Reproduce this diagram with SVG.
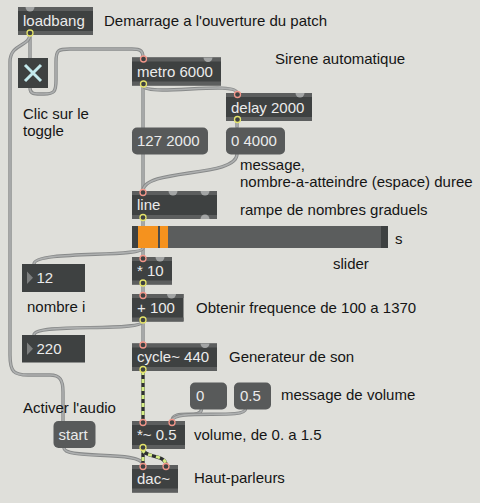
<svg xmlns="http://www.w3.org/2000/svg" width="480" height="503" viewBox="0 0 480 503">
<style>
.bg{fill:#dfdfda}
.obj{fill:#3e4141}
.stp{fill:#5c5e5e}
.msg{fill:#585a5a}
.num{fill:#3e4141}
.tri{fill:#7c7e7e}
.bt{font-family:"Liberation Sans",Arial,sans-serif;font-size:15px;fill:#ebebeb}
.cm{font-family:"Liberation Sans",Arial,sans-serif;font-size:15px;fill:#151515}
.co{fill:none;stroke:#888a8a;stroke-width:3.4;stroke-linecap:round}
.ci{fill:none;stroke:#aeb0b0;stroke-width:1.6;stroke-linecap:round}
.so{fill:none;stroke:#2e3030;stroke-width:3.4}
.si{fill:none;stroke:#d6ee86;stroke-width:3;stroke-dasharray:4 4}
.in{fill:#3e4141;stroke:#f2968a;stroke-width:1.3}
.out{fill:#3e4141;stroke:#e4e36a;stroke-width:1.3}
.bump{fill:#a3a5a5}
</style>
<rect class="bg" x="0" y="0" width="480" height="503"/>

<g id="connectors">
<path class="co" d="M30,34 L30,58"/><path class="ci" d="M30,34 L30,58"/>
<path class="co" d="M30,34 C30,47 10,43 10,62 L10,355 C10,372 14,375 28,375 L50,375 C60,375 63,380 63,392 L63,421"/>
<path class="ci" d="M30,34 C30,47 10,43 10,62 L10,355 C10,372 14,375 28,375 L50,375 C60,375 63,380 63,392 L63,421"/>
<path class="co" d="M30,88 C30,95 36,94 44,94 C54,94 56,92 56,80 L56,62 C56,50 58,49 70,49 L132,49 C141,49 143,51 143,58"/>
<path class="ci" d="M30,88 C30,95 36,94 44,94 C54,94 56,92 56,80 L56,62 C56,50 58,49 70,49 L132,49 C141,49 143,51 143,58"/>
<path class="co" d="M143,85 L143,191"/><path class="ci" d="M143,85 L143,191"/>
<path class="co" d="M143,85 C143,98 237,80 237,93"/><path class="ci" d="M143,85 C143,98 237,80 237,93"/>
<path class="co" d="M237,121 L237,127"/><path class="ci" d="M237,121 L237,127"/>
<path class="co" d="M237,154 C237,178 143,168 143,191"/><path class="ci" d="M237,154 C237,178 143,168 143,191"/>
<path class="co" d="M143,219 L143,226"/><path class="ci" d="M143,219 L143,226"/>
<path class="co" d="M143,248 L143,257"/><path class="ci" d="M143,248 L143,257"/>
<path class="co" d="M143,248 C143,258 34,250 34,264"/><path class="ci" d="M143,248 C143,258 34,250 34,264"/>
<path class="co" d="M143,284 L143,294"/><path class="ci" d="M143,284 L143,294"/>
<path class="co" d="M143,321 L143,343"/><path class="ci" d="M143,321 L143,343"/>
<path class="co" d="M143,321 C143,333 34,322 34,335"/><path class="ci" d="M143,321 C143,333 34,322 34,335"/>
<path class="co" d="M201.5,409 C201.5,420 172,408 172,421"/><path class="ci" d="M201.5,409 C201.5,420 172,408 172,421"/>
<path class="co" d="M245.5,409 C245.5,420 172,408 172,421"/><path class="ci" d="M245.5,409 C245.5,420 172,408 172,421"/>
<path class="co" d="M64,448 C64,460 143,450 143,465"/><path class="ci" d="M64,448 C64,460 143,450 143,465"/>
<path class="so" d="M143,371 L143,421"/><path class="si" d="M143,371 L143,421"/>
<path class="so" d="M143,449 L143,465"/><path class="si" d="M143,449 L143,465"/>
<path class="so" d="M143,449 C143,458 166,454 166,465"/><path class="si" d="M143,449 C143,458 166,454 166,465"/>
</g>

<g id="loadbang">
<rect class="obj" x="18" y="7" width="75" height="28"/>
<rect class="stp" x="18" y="7" width="75" height="4"/><rect class="stp" x="18" y="31" width="75" height="4"/>
<path class="bump" d="M25.5,7 A4.5,4.5 0 0 0 34.5,7 Z"/>
<circle class="out" cx="30" cy="33" r="3"/>
<text class="bt" x="23" y="26">loadbang</text>
</g>
<text class="cm" x="104" y="26">Demarrage a l'ouverture du patch</text>

<g id="toggle">
<rect class="obj" x="18" y="58" width="30" height="30"/>
<path d="M25,65 L41,81 M41,65 L25,81" stroke="#c4eaee" stroke-width="3" fill="none"/>
</g>
<text class="cm" x="23" y="118.5">Clic sur le</text>
<text class="cm" x="23" y="135.5">toggle</text>

<g id="metro">
<rect class="obj" x="132" y="57.5" width="89" height="28"/>
<rect class="stp" x="132" y="57.5" width="89" height="4"/><rect class="stp" x="132" y="81.5" width="89" height="4"/>
<path class="bump" d="M203.5,57.5 A4.5,4.5 0 0 0 212.5,57.5 Z"/>
<circle class="in" cx="143.5" cy="59" r="3"/>
<circle class="out" cx="143.5" cy="84" r="3"/>
<text class="bt" x="137" y="77">metro 6000</text>
</g>
<text class="cm" x="275" y="64">Sirene automatique</text>

<g id="delay">
<rect class="obj" x="226" y="93" width="86" height="28"/>
<rect class="stp" x="226" y="93" width="86" height="4"/><rect class="stp" x="226" y="117" width="86" height="4"/>
<path class="bump" d="M295.5,93 A4.5,4.5 0 0 0 304.5,93 Z"/>
<circle class="in" cx="237.5" cy="94.5" r="3"/>
<circle class="out" cx="237.5" cy="119.5" r="3"/>
<text class="bt" x="231" y="112.5">delay 2000</text>
</g>

<g id="msg127">
<rect class="msg" x="132" y="127.5" width="76" height="27" rx="5"/>
<text class="bt" x="137" y="146">127 2000</text>
</g>
<g id="msg04000">
<rect class="msg" x="226" y="127.5" width="59" height="27" rx="5"/>
<text class="bt" x="231" y="146">0 4000</text>
</g>
<text class="cm" x="240" y="170">message,</text>
<text class="cm" x="240" y="186.5">nombre-a-atteindre (espace) duree</text>

<g id="line">
<rect class="obj" x="132" y="191" width="85" height="28"/>
<rect class="stp" x="132" y="191" width="85" height="4"/><rect class="stp" x="132" y="215" width="85" height="4"/>
<path class="bump" d="M168.5,191 A4.5,4.5 0 0 0 177.5,191 Z"/>
<path class="bump" d="M200.5,191 A4.5,4.5 0 0 0 209.5,191 Z"/>
<path class="bump" d="M200.5,219 A4.5,4.5 0 0 1 209.5,219 Z"/>
<circle class="in" cx="143" cy="192.5" r="3"/>
<circle class="out" cx="143" cy="217.5" r="3"/>
<text class="bt" x="137" y="209.5">line</text>
</g>
<text class="cm" x="240" y="215">rampe de nombres graduels</text>

<g id="slider">
<rect fill="#3e4141" x="132" y="226" width="256" height="22"/>
<rect fill="#5b5d5d" x="138" y="226" width="243" height="22"/>
<rect fill="#f5921e" x="138" y="226" width="30" height="22"/>
<rect fill="#4a4c4c" x="158" y="226" width="2" height="22"/>
</g>
<text class="cm" x="395" y="244">s</text>
<text class="cm" x="333" y="268.5">slider</text>

<g id="times10">
<rect class="obj" x="132" y="257" width="40" height="27.5"/>
<rect class="stp" x="132" y="257" width="40" height="4"/><rect class="stp" x="132" y="280.5" width="40" height="4"/>
<path class="bump" d="M155.5,257 A4.5,4.5 0 0 0 164.5,257 Z"/>
<circle class="in" cx="143" cy="258.5" r="3"/>
<circle class="out" cx="143" cy="283" r="3"/>
<text class="bt" x="137" y="276">* 10</text>
</g>

<g id="num12">
<rect class="num" x="22" y="264" width="63" height="28"/>
<path class="tri" d="M27,271.5 L33,277.8 L27,284 Z"/>
<text class="bt" x="36.5" y="282.5">12</text>
</g>
<text class="cm" x="27" y="311.5">nombre i</text>

<g id="plus100">
<rect class="obj" x="132" y="294" width="51.5" height="27.5"/>
<rect class="stp" x="132" y="294" width="51.5" height="4"/><rect class="stp" x="132" y="317.5" width="51.5" height="4"/>
<path class="bump" d="M167,294 A4.5,4.5 0 0 0 176,294 Z"/>
<circle class="in" cx="143" cy="295.5" r="3"/>
<circle class="out" cx="143" cy="320" r="3"/>
<text class="bt" x="137" y="312.5">+ 100</text>
</g>
<text class="cm" x="196" y="313">Obtenir frequence de 100 a 1370</text>

<g id="num220">
<rect class="num" x="22" y="335" width="63" height="27.5"/>
<path class="tri" d="M27,342.5 L33,348.7 L27,355 Z"/>
<text class="bt" x="36.5" y="354">220</text>
</g>

<g id="cycle">
<rect class="obj" x="132" y="343.5" width="85" height="27.5"/>
<rect class="stp" x="132" y="343.5" width="85" height="4"/><rect class="stp" x="132" y="367" width="85" height="4"/>
<path class="bump" d="M200.5,343.5 A4.5,4.5 0 0 0 209.5,343.5 Z"/>
<circle class="in" cx="143" cy="345" r="3"/>
<circle class="out" cx="143" cy="369.5" r="3"/>
<text class="bt" x="137" y="361.5">cycle~ 440</text>
</g>
<text class="cm" x="229" y="361.5">Generateur de son</text>

<g id="msg0">
<rect class="msg" x="190" y="382.5" width="37" height="27" rx="5"/>
<text class="bt" x="196" y="400.5">0</text>
</g>
<g id="msg05">
<rect class="msg" x="234" y="382.5" width="37" height="27" rx="5"/>
<text class="bt" x="240" y="400.5">0.5</text>
</g>
<text class="cm" x="281" y="400">message de volume</text>

<text class="cm" x="23" y="412.5">Activer l'audio</text>
<g id="start">
<rect class="msg" x="53.5" y="421" width="42" height="27" rx="5"/>
<text class="bt" x="58.5" y="440">start</text>
</g>

<g id="times05">
<rect class="obj" x="132" y="421" width="53" height="28"/>
<rect class="stp" x="132" y="421" width="53" height="4"/><rect class="stp" x="132" y="445" width="53" height="4"/>
<circle class="in" cx="143" cy="422.5" r="3"/>
<circle class="in" cx="172" cy="422.5" r="3"/>
<circle class="out" cx="143" cy="447.5" r="3"/>
<text class="bt" x="137" y="440">*~ 0.5</text>
</g>
<text class="cm" x="194" y="440">volume, de 0. a 1.5</text>

<g id="dac">
<rect class="obj" x="132" y="465" width="46" height="27.5"/>
<rect class="stp" x="132" y="465" width="46" height="4"/><rect class="stp" x="132" y="488.5" width="46" height="4"/>
<circle class="in" cx="143" cy="466.5" r="3"/>
<circle class="in" cx="166" cy="466.5" r="3"/>
<text class="bt" x="137" y="483.5">dac~</text>
</g>
<text class="cm" x="194" y="483">Haut-parleurs</text>
</svg>
